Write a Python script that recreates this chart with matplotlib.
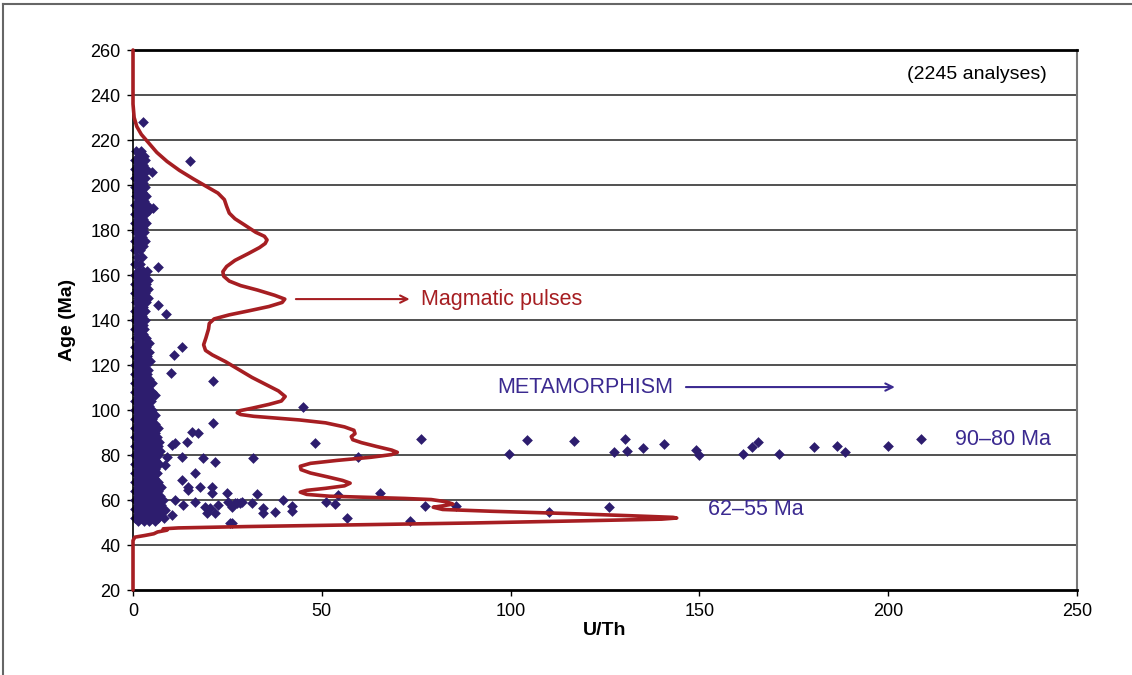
import numpy as np
import matplotlib.pyplot as plt
import matplotlib as mpl
from matplotlib.lines import Line2D

mpl.rcParams.update({'font.family': ['Liberation Sans', 'DejaVu Sans']})
mpl.rcParams.update({'font.size': 13})

# probability density curve (U/Th scaled), traced from top to bottom
curve_ratio = [0, 0, 0.3, 1, 2.2, 4, 6.3, 9, 12.3, 16, 19.5, 22.5, 24.2, 24.8,
               25.5, 27, 29.5, 32.5, 34.8, 35.5, 35, 33.5, 30.5, 27, 24.8, 23.8,
               24, 25.5, 28.5, 33, 37.5, 40.2, 39.5, 36, 31, 25.5, 21.5, 20.2, 20,
               19.3, 18.7, 19.2, 21, 24.5, 28, 31.5, 35, 38.5, 40.3, 39.3, 36,
               31.5, 28.3, 27.6, 28.5, 32, 38, 44, 51, 56, 58.5, 58.8, 57.8, 58.2,
               60.5, 64.5, 68.5, 70, 68.5, 63, 54, 47, 44.3, 44.5, 47, 51.5, 55.5,
               57.5, 56, 51, 46, 44.3, 46, 52, 62, 72, 79, 83, 84.7, 82, 79.5, 82,
               95, 115, 132, 143, 144, 140, 120, 90, 60, 30, 12, 8, 9, 6.5, 5.5,
               3, 0.5, 0, 0]
curve_age = [260, 236, 230, 226, 222.5, 219, 214.5, 210.5, 206.5, 202.7, 199.3,
             196.4, 193.5, 190.5, 187.5, 185, 182.3, 179, 177.2, 175.6, 174,
             172.2, 169.5, 166.5, 163.8, 161.5, 159.5, 157.3, 155.3, 153.3, 151,
             149.3, 147.8, 146, 144.2, 142.3, 140.5, 138.5, 136, 132, 129, 126.5,
             124.5, 121.5, 118, 114.5, 111.5, 108.5, 106, 104, 102.5, 100.8,
             99.7, 98.8, 98, 97.2, 96.4, 95.6, 94.3, 92.5, 91, 89.5, 88.2, 86.8,
             85.5, 83.8, 82.2, 81.2, 80.2, 79, 77.6, 76.3, 75, 73.5, 72, 70.3,
             68.7, 67.5, 66.3, 65.2, 64.3, 63.5, 62.5, 61.7, 61.2, 60.7, 60.2,
             59.2, 58.2, 57.4, 56.8, 55.8, 55, 54, 53, 52.3, 52, 51.5, 50.8,
             49.8, 49, 48.2, 47.6, 47.2, 46.6, 45.8, 45, 44.2, 43.5, 42, 20]

# scattered analyses away from the main column
outlier_ratio = [45.0, 48.2, 31.8, 59.6, 76.3, 99.6, 104.3, 116.8, 127.4, 130.3,
                 130.8, 135.1, 140.6, 149.1, 149.9, 161.5, 163.9, 165.5, 171.1,
                 180.3, 186.4, 188.6, 199.9, 208.7,
                 65.4, 77.3, 85.5, 110.2, 126.1, 73.4, 56.7, 51.1, 53.5, 54.3,
                 32.8, 39.7, 42.1, 42.1, 34.4, 34.4, 37.6, 31.5, 28.3, 27.5,
                 26.2, 26.2,
                 5.8, 21.2, 15.6, 17.2, 14.3, 11.1, 10.3, 13.0, 9.0, 18.5, 21.7,
                 8.5, 16.4, 13.0, 14.6, 17.7, 20.9, 20.9, 14.6, 24.9, 11.1, 13.2,
                 16.4, 19.1, 20.4, 22.5, 19.6, 21.7, 25.2, 27.0, 28.9, 25.7, 8.5,
                 10.3,
                 6.6, 6.6, 8.7, 13.0, 10.9, 10.1, 21.2, 2.6, 15.1, 3.7, 5.0, 5.3]
outlier_age = [101.3, 85.3, 78.7, 79.1, 87.1, 80.4, 86.7, 86.2, 81.3, 87.1,
               81.8, 83.1, 84.9, 82.2, 80.0, 80.4, 83.6, 85.8, 80.4,
               83.6, 84.0, 81.3, 84.0, 87.1,
               63.1, 57.3, 57.3, 54.7, 56.9, 50.7, 52.0, 59.1, 58.2, 62.2,
               62.7, 60.0, 57.3, 55.1, 56.4, 54.2, 54.7, 58.7, 58.7, 58.7,
               56.9, 49.8,
               106.7, 94.2, 90.2, 89.8, 85.8, 85.3, 84.4, 79.1, 79.1, 78.7, 76.9,
               75.6, 72.0, 68.9, 65.8, 65.8, 65.8, 63.1, 64.4, 63.1, 60.0, 57.8,
               59.1, 56.9, 56.4, 57.8, 54.2, 54.2, 59.1, 58.7, 59.1, 49.8, 55.6,
               53.3,
               163.6, 146.7, 142.7, 128.0, 124.4, 116.4, 112.9, 228.0, 210.7,
               206.7, 205.8, 189.8]

# dense column of low U/Th analyses: one age per row, U/Th values in that row
band_age = [215, 213, 211, 209, 207, 205, 203, 201, 199, 197, 195, 193, 191, 189,
            187, 185, 183, 181, 179, 177, 175, 173, 171, 168, 165, 162, 160, 158,
            156, 154, 152, 150, 148, 146, 144, 142, 140, 138, 136, 134, 132, 130,
            128, 126, 124, 122, 120, 118, 116, 114, 112, 110, 108, 106, 104, 102,
            100, 98, 96, 94, 92, 90, 88, 86, 84, 82, 80, 78, 76, 74, 72, 70, 68,
            66, 64, 62, 60, 58, 56, 54, 52, 50.5]
band_ratios = [[0.8, 2.2], [1.5, 2.8], [0.5, 2.0, 3.2], [1.2, 2.6], [0.4, 1.9, 3.0],
               [1.0, 2.4], [0.6, 1.8, 3.1], [1.3, 2.7], [0.5, 2.0, 3.3], [1.1, 2.5],
               [0.7, 1.9, 3.4], [1.4, 2.8], [0.5, 2.1, 3.6], [1.2, 2.6, 4.2],
               [0.6, 1.9, 3.1], [1.3, 2.7], [0.5, 2.0, 3.4], [1.1, 2.6],
               [0.7, 1.8, 3.0], [1.4, 2.5], [0.6, 2.0, 3.2], [1.2, 2.7], [0.5, 1.9],
               [1.0, 2.3], [0.6, 1.8], [1.2, 2.6, 3.8], [0.5, 1.9, 3.2],
               [1.3, 2.7, 4.0], [0.6, 2.0, 3.4], [1.1, 2.5, 3.9], [0.5, 1.8, 3.1],
               [1.3, 2.8, 4.1], [0.7, 2.1, 3.5], [1.2, 2.6], [0.5, 1.9, 3.3],
               [1.1, 2.5], [0.6, 2.0, 3.2], [1.3, 2.7], [0.5, 1.8, 3.0], [1.2, 2.6],
               [0.7, 2.0, 3.4], [1.4, 2.9, 4.3], [0.5, 2.0, 3.5], [1.1, 2.6, 4.2],
               [0.6, 2.1, 3.6], [1.3, 2.8, 4.4], [0.5, 1.9, 3.3], [1.2, 2.7, 4.1],
               [0.6, 2.1, 3.6], [1.3, 2.8, 4.3], [0.5, 2.0, 3.4, 4.9],
               [1.2, 2.7, 4.1], [0.6, 2.1, 3.6, 5.0], [1.3, 2.8, 4.3],
               [0.5, 2.0, 3.5, 4.8], [1.2, 2.7, 4.2], [0.6, 2.1, 3.6, 5.1],
               [1.3, 2.8, 4.4, 5.8], [0.5, 2.0, 3.5, 5.0], [1.2, 2.7, 4.2, 5.7],
               [0.6, 2.1, 3.6, 5.2, 6.5], [1.3, 2.8, 4.3, 5.8],
               [0.5, 2.0, 3.5, 5.0, 6.4], [1.2, 2.7, 4.2, 5.7, 7.0],
               [0.6, 2.1, 3.6, 5.1, 6.5], [1.3, 2.8, 4.3, 5.8, 7.2],
               [0.5, 2.0, 3.5, 5.0, 6.6], [1.2, 2.7, 4.2, 5.7],
               [0.6, 2.1, 3.6, 5.1, 6.8], [1.3, 2.8, 4.3, 5.9],
               [0.5, 2.0, 3.5, 5.0, 6.3], [1.2, 2.7, 4.2, 5.6],
               [0.6, 2.1, 3.6, 5.2, 6.7], [1.3, 2.8, 4.3, 5.8, 7.3],
               [0.5, 2.0, 3.5, 5.0, 6.5], [1.2, 2.7, 4.2, 5.7, 7.1],
               [0.6, 2.1, 3.6, 5.1, 6.6, 8.0], [1.3, 2.8, 4.3, 5.8, 7.3],
               [0.5, 2.0, 3.5, 5.0, 6.5, 8.0], [1.2, 2.7, 4.2, 5.7, 7.2],
               [0.6, 2.1, 3.6, 5.1, 6.6, 8.2], [1.3, 2.8, 4.3, 5.8]]

yticks = [20, 40, 60, 80, 100, 120, 140, 160, 180, 200, 220, 240, 260]
xticks = [0, 50, 100, 150, 200, 250]

dot_col = '#2d1d6e'
red = '#a61e22'
purple = '#3b2a90'

fig = plt.figure(figsize=(11.32, 6.75), dpi=100)
ax = fig.add_axes([0.1175, 0.1259, 0.8339, 0.8])

for y in yticks[1:-1]:
    ax.axhline(y, color='#222222', lw=1.1, zorder=1)

band_x = [r for row in band_ratios for r in row]
band_y = [a for a, row in zip(band_age, band_ratios) for r in row]
ax.scatter(band_x, band_y, marker='D', s=30, color=dot_col, lw=0, zorder=2, clip_on=False)
ax.scatter(outlier_ratio, outlier_age, marker='D', s=30, color=dot_col, lw=0, zorder=2)

ax.plot(curve_ratio, curve_age, color=red, lw=2.6, zorder=3, clip_on=False,
        solid_joinstyle='round', solid_capstyle='round')

ax.set_xlim(0, 250)
ax.set_ylim(20, 260)
ax.set_xticks(xticks)
ax.set_yticks(yticks)
ax.tick_params(direction='out', length=4, width=1, labelsize=13, pad=5)
ax.set_xlabel('U/Th', fontsize=14, fontweight='bold', labelpad=2)
ax.set_ylabel('Age (Ma)', fontsize=14, fontweight='bold', labelpad=10)

ax.spines['top'].set_linewidth(2)
ax.spines['bottom'].set_linewidth(2)
ax.spines['left'].set_linewidth(1.2)
ax.spines['right'].set_color('#777777')
ax.spines['right'].set_linewidth(1.5)

# annotations
ax.text(242, 249, '(2245 analyses)', ha='right', va='center', fontsize=14)
ax.annotate('', xy=(74, 149.3), xytext=(42.4, 149.3),
            arrowprops=dict(arrowstyle='->', color=red, lw=1.5))
ax.text(76.3, 149.3, 'Magmatic pulses', color=red, fontsize=15.5, va='center')
ax.text(96.4, 110.2, 'METAMORPHISM', color=purple, fontsize=15.5, va='center')
ax.annotate('', xy=(202.5, 110.2), xytext=(145.7, 110.2),
            arrowprops=dict(arrowstyle='->', color=purple, lw=1.5))
ax.text(217.7, 86.7, '90\u201380 Ma', color=purple, fontsize=15.5, va='center')
ax.text(152.3, 55.6, '62\u201355 Ma', color=purple, fontsize=15.5, va='center')

# outer frame of the figure panel
fig.add_artist(Line2D([0.003, 0.003], [0, 0.994], color='#666666', lw=1.5))
fig.add_artist(Line2D([0.003, 1], [0.994, 0.994], color='#666666', lw=1.5))

plt.savefig('out.png', dpi=100)
